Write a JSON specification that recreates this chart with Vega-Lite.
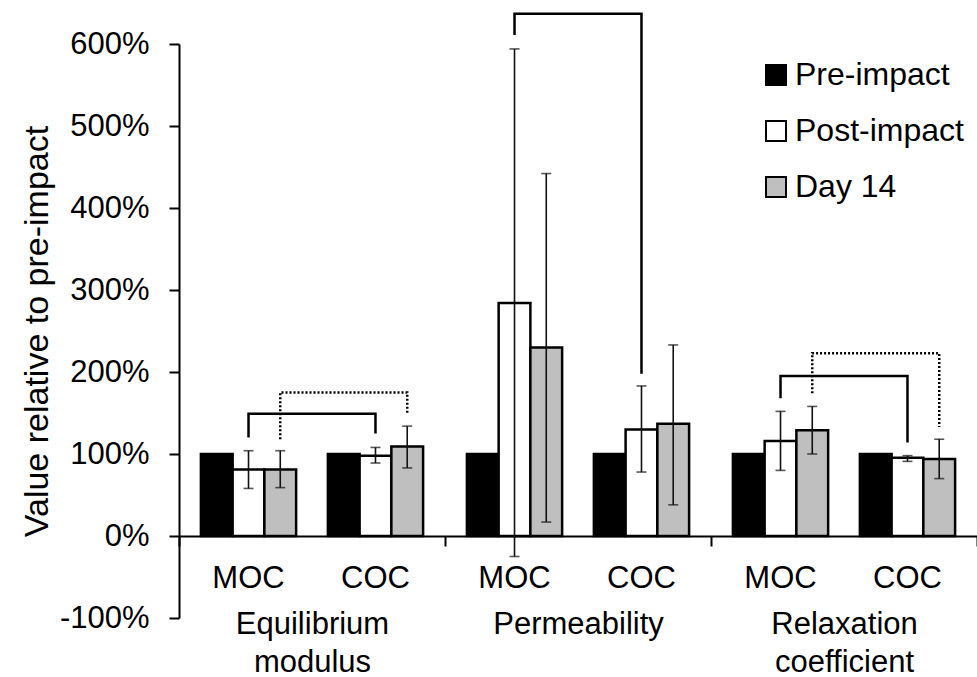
{
  "$schema": "https://vega.github.io/schema/vega-lite/v6.json",
  "width": 798,
  "height": 574,
  "autosize": {"type": "none"},
  "padding": {"left": 179, "top": 44, "right": 0, "bottom": 59},
  "background": "white",
  "config": {"view": {"stroke": null}, "font": "Liberation Sans"},
  "datasets": {
    "bars": [
      {"cat": "Equilibrium modulus", "sub": "MOC", "series": "Pre-impact", "slot": "MOC Pre-impact", "value": 100, "lo": null, "hi": null},
      {"cat": "Equilibrium modulus", "sub": "MOC", "series": "Post-impact", "slot": "MOC Post-impact", "value": 81, "lo": 58, "hi": 104},
      {"cat": "Equilibrium modulus", "sub": "MOC", "series": "Day 14", "slot": "MOC Day 14", "value": 81, "lo": 59, "hi": 104},
      {"cat": "Equilibrium modulus", "sub": "COC", "series": "Pre-impact", "slot": "COC Pre-impact", "value": 100, "lo": null, "hi": null},
      {"cat": "Equilibrium modulus", "sub": "COC", "series": "Post-impact", "slot": "COC Post-impact", "value": 98, "lo": 89, "hi": 108},
      {"cat": "Equilibrium modulus", "sub": "COC", "series": "Day 14", "slot": "COC Day 14", "value": 109, "lo": 83, "hi": 134},
      {"cat": "Permeability", "sub": "MOC", "series": "Pre-impact", "slot": "MOC Pre-impact", "value": 100, "lo": null, "hi": null},
      {"cat": "Permeability", "sub": "MOC", "series": "Post-impact", "slot": "MOC Post-impact", "value": 284, "lo": -25, "hi": 594},
      {"cat": "Permeability", "sub": "MOC", "series": "Day 14", "slot": "MOC Day 14", "value": 230, "lo": 17, "hi": 442},
      {"cat": "Permeability", "sub": "COC", "series": "Pre-impact", "slot": "COC Pre-impact", "value": 100, "lo": null, "hi": null},
      {"cat": "Permeability", "sub": "COC", "series": "Post-impact", "slot": "COC Post-impact", "value": 130, "lo": 78, "hi": 183},
      {"cat": "Permeability", "sub": "COC", "series": "Day 14", "slot": "COC Day 14", "value": 137, "lo": 38, "hi": 233},
      {"cat": "Relaxation coefficient", "sub": "MOC", "series": "Pre-impact", "slot": "MOC Pre-impact", "value": 100, "lo": null, "hi": null},
      {"cat": "Relaxation coefficient", "sub": "MOC", "series": "Post-impact", "slot": "MOC Post-impact", "value": 116, "lo": 80, "hi": 152},
      {"cat": "Relaxation coefficient", "sub": "MOC", "series": "Day 14", "slot": "MOC Day 14", "value": 129, "lo": 100, "hi": 158},
      {"cat": "Relaxation coefficient", "sub": "COC", "series": "Pre-impact", "slot": "COC Pre-impact", "value": 100, "lo": null, "hi": null},
      {"cat": "Relaxation coefficient", "sub": "COC", "series": "Post-impact", "slot": "COC Post-impact", "value": 95.5, "lo": 91, "hi": 98},
      {"cat": "Relaxation coefficient", "sub": "COC", "series": "Day 14", "slot": "COC Day 14", "value": 94, "lo": 70, "hi": 118}
    ],
    "brackets": [
      {"id": "eq-solid", "style": "solid", "cat": "Equilibrium modulus", "slot": "MOC Post-impact", "y": 120, "pt": 1},
      {"id": "eq-solid", "style": "solid", "cat": "Equilibrium modulus", "slot": "MOC Post-impact", "y": 149, "pt": 2},
      {"id": "eq-solid", "style": "solid", "cat": "Equilibrium modulus", "slot": "COC Post-impact", "y": 149, "pt": 3},
      {"id": "eq-solid", "style": "solid", "cat": "Equilibrium modulus", "slot": "COC Post-impact", "y": 125, "pt": 4},
      {"id": "eq-dot", "style": "dotted", "cat": "Equilibrium modulus", "slot": "MOC Day 14", "y": 118, "pt": 1},
      {"id": "eq-dot", "style": "dotted", "cat": "Equilibrium modulus", "slot": "MOC Day 14", "y": 175, "pt": 2},
      {"id": "eq-dot", "style": "dotted", "cat": "Equilibrium modulus", "slot": "COC Day 14", "y": 175, "pt": 3},
      {"id": "eq-dot", "style": "dotted", "cat": "Equilibrium modulus", "slot": "COC Day 14", "y": 150, "pt": 4},
      {"id": "perm-solid", "style": "solid", "cat": "Permeability", "slot": "MOC Post-impact", "y": 611, "pt": 1},
      {"id": "perm-solid", "style": "solid", "cat": "Permeability", "slot": "MOC Post-impact", "y": 637, "pt": 2},
      {"id": "perm-solid", "style": "solid", "cat": "Permeability", "slot": "COC Post-impact", "y": 637, "pt": 3},
      {"id": "perm-solid", "style": "solid", "cat": "Permeability", "slot": "COC Post-impact", "y": 198, "pt": 4},
      {"id": "rel-solid", "style": "solid", "cat": "Relaxation coefficient", "slot": "MOC Post-impact", "y": 168, "pt": 1},
      {"id": "rel-solid", "style": "solid", "cat": "Relaxation coefficient", "slot": "MOC Post-impact", "y": 195, "pt": 2},
      {"id": "rel-solid", "style": "solid", "cat": "Relaxation coefficient", "slot": "COC Post-impact", "y": 195, "pt": 3},
      {"id": "rel-solid", "style": "solid", "cat": "Relaxation coefficient", "slot": "COC Post-impact", "y": 114, "pt": 4},
      {"id": "rel-dot", "style": "dotted", "cat": "Relaxation coefficient", "slot": "MOC Day 14", "y": 174, "pt": 1},
      {"id": "rel-dot", "style": "dotted", "cat": "Relaxation coefficient", "slot": "MOC Day 14", "y": 223, "pt": 2},
      {"id": "rel-dot", "style": "dotted", "cat": "Relaxation coefficient", "slot": "COC Day 14", "y": 223, "pt": 3},
      {"id": "rel-dot", "style": "dotted", "cat": "Relaxation coefficient", "slot": "COC Day 14", "y": 133, "pt": 4}
    ],
    "subs": [
      {"cat": "Equilibrium modulus", "slot": "MOC Post-impact", "sub": "MOC"},
      {"cat": "Equilibrium modulus", "slot": "COC Post-impact", "sub": "COC"},
      {"cat": "Permeability", "slot": "MOC Post-impact", "sub": "MOC"},
      {"cat": "Permeability", "slot": "COC Post-impact", "sub": "COC"},
      {"cat": "Relaxation coefficient", "slot": "MOC Post-impact", "sub": "MOC"},
      {"cat": "Relaxation coefficient", "slot": "COC Post-impact", "sub": "COC"}
    ]
  },
  "encoding": {
    "x": {
      "field": "cat",
      "type": "nominal",
      "sort": ["Equilibrium modulus", "Permeability", "Relaxation coefficient"],
      "scale": {"domain": ["Equilibrium modulus", "Permeability", "Relaxation coefficient"], "paddingInner": 0, "paddingOuter": 0},
      "axis": {
        "title": null,
        "orient": "bottom",
        "offset": -82,
        "tickBand": "extent",
        "labelExpr": "split(datum.label, ' ')",
        "labelAngle": 0,
        "labelFontSize": 31,
        "labelLineHeight": 38,
        "labelBaseline": "alphabetic",
        "labelPadding": 87,
        "labelColor": "black",
        "domainColor": "black",
        "domainWidth": 2,
        "tickColor": "black",
        "tickWidth": 2,
        "tickSize": 10,
        "grid": false
      }
    },
    "xOffset": {
      "field": "slot",
      "type": "nominal",
      "scale": {
        "domain": ["MOC Pre-impact", "MOC Post-impact", "MOC Day 14", "gap", "COC Pre-impact", "COC Post-impact", "COC Day 14"],
        "paddingInner": 0,
        "paddingOuter": 0.69
      }
    }
  },
  "layer": [
    {
      "data": {"name": "bars"},
      "mark": {"type": "bar", "stroke": "black", "strokeWidth": 2.5},
      "encoding": {
        "y": {
          "field": "value",
          "type": "quantitative",
          "scale": {"domain": [-100, 600], "nice": false, "zero": false},
          "axis": {
            "title": "Value relative to pre-impact",
            "values": [-100, 0, 100, 200, 300, 400, 500, 600],
            "labelExpr": "datum.value + '%'",
            "grid": false,
            "labelFontSize": 31,
            "labelColor": "black",
            "labelPadding": 20,
            "domainColor": "black",
            "domainWidth": 2,
            "tickColor": "black",
            "tickWidth": 2,
            "tickSize": 10,
            "titleFontSize": 34,
            "titleFontWeight": "normal",
            "titleColor": "black",
            "titleAngle": -90,
            "titleX": -142,
            "titleY": 287,
            "titleAlign": "center",
            "titleBaseline": "middle"
          }
        },
        "y2": {"datum": 0},
        "fill": {
          "field": "series",
          "type": "nominal",
          "scale": {"domain": ["Pre-impact", "Post-impact", "Day 14"], "range": ["#000000", "#ffffff", "#bfbfbf"]},
          "legend": {
            "title": null,
            "orient": "none",
            "legendX": 581,
            "legendY": 15,
            "padding": 0,
            "symbolType": "square",
            "symbolSize": 400,
            "symbolStrokeColor": "black",
            "symbolStrokeWidth": 2,
            "labelFontSize": 32,
            "labelColor": "black",
            "labelLimit": 0,
            "labelOffset": 3,
            "rowPadding": 24
          }
        }
      }
    },
    {
      "data": {"name": "bars"},
      "transform": [{"filter": "datum.hi != null"}],
      "mark": {"type": "rule", "color": "#111111", "strokeWidth": 1.6},
      "encoding": {
        "y": {"field": "lo", "type": "quantitative"},
        "y2": {"field": "hi"}
      }
    },
    {
      "data": {"name": "bars"},
      "transform": [{"filter": "datum.hi != null"}],
      "mark": {"type": "tick", "color": "#111111", "thickness": 1.6, "size": 10},
      "encoding": {
        "y": {"field": "hi", "type": "quantitative"}
      }
    },
    {
      "data": {"name": "bars"},
      "transform": [{"filter": "datum.lo != null"}],
      "mark": {"type": "tick", "color": "#111111", "thickness": 1.6, "size": 10},
      "encoding": {
        "y": {"field": "lo", "type": "quantitative"}
      }
    },
    {
      "data": {"name": "brackets"},
      "mark": {"type": "line", "color": "black", "strokeWidth": 2.5},
      "encoding": {
        "y": {"field": "y", "type": "quantitative"},
        "detail": {"field": "id", "type": "nominal"},
        "order": {"field": "pt", "type": "quantitative"},
        "strokeDash": {
          "field": "style",
          "type": "nominal",
          "scale": {"domain": ["solid", "dotted"], "range": [[1, 0], [2, 2]]},
          "legend": null
        }
      }
    },
    {
      "data": {"name": "subs"},
      "mark": {"type": "text", "fontSize": 31, "baseline": "alphabetic", "align": "center", "color": "black"},
      "encoding": {
        "y": {"datum": -63},
        "text": {"field": "sub", "type": "nominal"}
      }
    }
  ]
}
